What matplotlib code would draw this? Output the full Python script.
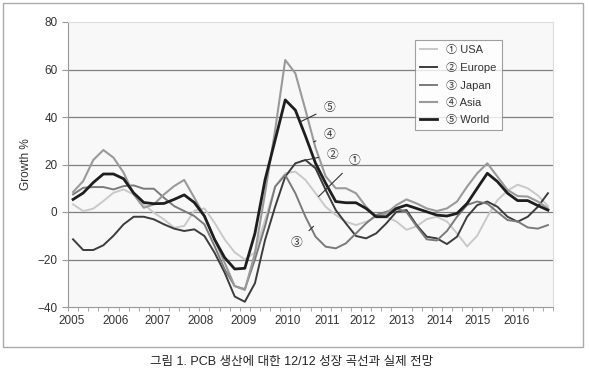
import numpy as np
import matplotlib
matplotlib.use('Agg')
import matplotlib.pyplot as plt
from matplotlib.patches import Rectangle

plt.rcParams['font.family'] = ['Liberation Sans', 'Noto Sans CJK KR', 'DejaVu Sans']
plt.rcParams['axes.unicode_minus'] = True

# Quarterly growth (%), 2005Q1 .. 2016Q4
usa = [3.2, 0.4, 1.4, 4.6, 8.1, 9.5, 7.4, 3.2, -0.3, -3.1, -6.6, -5.9,
       0.5, 1.5, -4.5, -11.5, -17.0, -20.0, -17.0, -3.4, 10.7, 16.3, 17.0, 13.5,
       7.9, 2.2, -1.3, -4.1, -5.5, -4.1, -2.0, -2.0, -4.0, -7.5, -6.0, -3.0,
       -2.0, -4.0, -9.0, -14.5, -10.0, -2.0, 5.0, 9.0, 11.5, 10.0, 7.0, 2.5]
europe = [-11.5, -16.0, -16.0, -14.0, -10.0, -5.2, -2.0, -2.0, -3.1, -5.2, -7.0, -8.0,
          -7.3, -10.1, -17.1, -25.5, -35.6, -37.8, -30.0, -11.8, 2.2, 14.9, 20.5, 21.9,
          18.4, 9.3, 0.8, -4.8, -10.1, -11.1, -9.0, -4.8, 0.1, 0.8, -5.5, -10.4,
          -11.1, -13.5, -10.4, -2.0, 2.9, 4.4, 2.2, -2.0, -4.1, -2.0, 2.2, 7.9]
japan = [7.4, 10.2, 10.5, 10.5, 9.5, 10.9, 11.2, 9.8, 9.8, 6.0, 2.5, 0.4,
         -1.7, -5.2, -14.3, -24.1, -31.2, -32.5, -20.0, -6.0, 10.7, 15.6, 7.9, -2.0,
         -10.4, -14.6, -15.3, -13.2, -9.0, -4.8, -1.3, 0.1, 1.5, 0.0, -6.0, -11.5,
         -12.0, -8.0, -2.0, 3.0, 4.4, 3.5, 0.0, -3.4, -4.0, -6.5, -7.0, -5.5]
asia = [8.4, 13.0, 21.9, 26.1, 22.9, 16.6, 7.4, 1.8, 3.2, 7.4, 10.9, 13.5,
        6.0, -1.7, -11.5, -21.3, -31.2, -32.8, -17.4, 7.9, 34.5, 64.0, 58.4, 43.0,
        27.0, 15.0, 10.0, 10.0, 7.9, 2.2, -2.0, -0.6, 2.9, 5.3, 3.6, 1.5,
        0.4, 1.5, 4.4, 10.7, 16.3, 20.5, 14.9, 9.3, 6.7, 6.5, 4.4, 1.5]
world = [5.3, 8.0, 12.4, 16.0, 16.0, 14.0, 8.0, 4.0, 3.5, 3.6, 5.3, 7.2,
         4.0, -1.7, -11.5, -19.2, -24.0, -23.7, -9.0, 13.5, 30.3, 47.2, 42.9, 32.0,
         20.5, 12.1, 4.4, 3.9, 3.9, 1.5, -2.0, -2.0, 1.5, 2.9, 1.5, 0.1,
         -1.3, -1.7, -0.6, 3.6, 10.0, 16.3, 12.8, 7.9, 4.8, 4.8, 2.7, 0.8]

years = ['2005', '2006', '2007', '2008', '2009', '2010', '2011', '2012',
         '2013', '2014', '2015', '2016']
year_pos = [-0.15, 4.25, 8.4, 12.6, 16.85, 21.2, 25.2, 28.7, 32.5, 36.3, 40.0, 43.9]

series = [
    ('\u2460 USA', usa, '#c9c9c9', 1.4),
    ('\u2461 Europe', europe, '#3c3c3c', 1.4),
    ('\u2462 Japan', japan, '#7a7a7a', 1.4),
    ('\u2463 Asia', asia, '#9a9a9a', 1.5),
    ('\u2464 World', world, '#1e1e1e', 2.0),
]

fig = plt.figure(figsize=(5.89, 3.79), dpi=100)
ax = fig.add_axes([68/589, 72/379, 485/589, 285/379])
ax.set_facecolor('#f8f8f8')

x = np.arange(len(world))
for label, vals, color, lw in series:
    ax.plot(x, vals, color=color, lw=lw, label=label, zorder=3)

for yv in [60, 40, 20, 0, -20]:
    ax.axhline(yv, color='#7f7f7f', lw=0.9, zorder=1)

ax.set_xlim(-0.5, len(world) - 0.5)
ax.set_ylim(-40, 80)
ax.set_yticks([-40, -20, 0, 20, 40, 60, 80])
ax.tick_params(axis='y', labelsize=8.5, colors='#333333', length=4, color='#999999')
ax.set_xticks(year_pos)
ax.set_xticklabels(years)
ax.set_xticks(np.arange(-0.5, len(world), 1.0), minor=True)
ax.tick_params(axis='x', which='major', length=0, labelsize=8.5, colors='#333333', pad=6)
ax.tick_params(axis='x', which='minor', length=3, color='#999999')
for s in ['left', 'bottom']:
    ax.spines[s].set_color('#999999')
for s in ['top', 'right']:
    ax.spines[s].set_color('#dddddd')
ax.set_ylabel('Growth %', fontsize=8.5, color='#333333')

leg = ax.legend(loc='upper left', bbox_to_anchor=(0.703, 0.955), fontsize=8,
                frameon=True, fancybox=False, edgecolor='#888888',
                labelspacing=0.62, handlelength=1.6, borderpad=0.45)
leg.get_frame().set_linewidth(0.8)
for t in leg.get_texts():
    t.set_color('#333333')

# circled labels with leader lines
notes = [('\u2464', 22.5, 38.0, 25.4, 44.0),
         ('\u2463', 23.8, 29.5, 25.4, 32.5),
         ('\u2461', 22.6, 21.5, 25.7, 24.2),
         ('\u2460', 24.3, 6.5, 27.9, 21.5),
         ('\u2462', 23.8, -6.0, 22.1, -13.0)]
for txt, x0, y0, x1, y1 in notes:
    ax.annotate(txt, xy=(x0, y0), xytext=(x1, y1), fontsize=8.5, color='#333333',
                ha='center', va='center',
                arrowprops=dict(arrowstyle='-', color='#333333', lw=0.8,
                                shrinkA=4, shrinkB=0), zorder=5)

fig.patches.append(Rectangle((3/589, 32/379), 580/589, 344/379, transform=fig.transFigure,
                             fill=False, edgecolor='#aaaaaa', lw=1.0))
fig.text(292/589, 17/379, '그림 1. PCB 생산에 대한 12/12 성장 곡선과 실제 전망',
         ha='center', va='center', fontsize=9, color='#222222')

fig.savefig('out.png', dpi=100)
